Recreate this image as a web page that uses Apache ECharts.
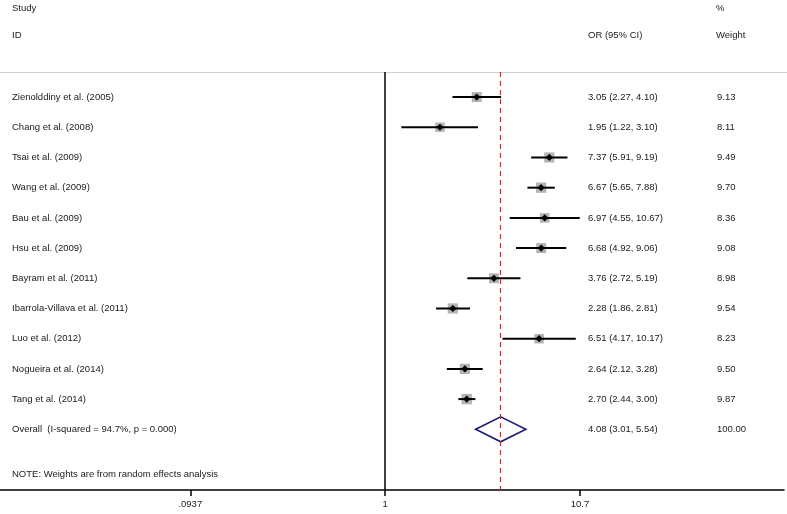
<!DOCTYPE html>
<html><head><meta charset="utf-8">
<script src="https://cdn.jsdelivr.net/npm/echarts@6/dist/echarts.min.js"></script>
<style>html,body{margin:0;padding:0;background:#fff}#c{width:787px;height:514px}</style>
</head><body><div id="c"></div>
<script>
const studies = ['Zienolddiny et al. (2005)','Chang et al. (2008)','Tsai et al. (2009)','Wang et al. (2009)','Bau et al. (2009)','Hsu et al. (2009)','Bayram et al. (2011)','Ibarrola-Villava et al. (2011)','Luo et al. (2012)','Nogueira et al. (2014)','Tang et al. (2014)'];
const orVals = [3.05,1.95,7.37,6.67,6.97,6.68,3.76,2.28,6.51,2.64,2.70];
const ciLow  = [2.27,1.22,5.91,5.65,4.55,4.92,2.72,1.86,4.17,2.12,2.44];
const ciHigh = [4.10,3.10,9.19,7.88,10.67,9.06,5.19,2.81,10.17,3.28,3.00];
const weights = [9.13,8.11,9.49,9.70,8.36,9.08,8.98,9.54,8.23,9.50,9.87];
const overallLabel = 'Overall  (I-squared = 94.7%, p = 0.000)';
const overallOR = 4.08, overallLow = 3.01, overallHigh = 5.54, overallWeight = 100.00;
const tickValues = [0.0937, 1, 10.7];
const tickLabels = ['.0937', '1', '10.7'];
const noteText = 'NOTE: Weights are from random effects analysis';

const FONT = '"Liberation Sans", Arial, sans-serif';
const FS = 9.5;
const TXT = '#1a1a1a';
const fmt = v => v.toFixed(2);

const markData = studies.map((s, i) => [orVals[i], i, ciLow[i], ciHigh[i], weights[i]]);
const textData = studies.map((s, i) => [1, i, s, fmt(orVals[i]) + ' (' + fmt(ciLow[i]) + ', ' + fmt(ciHigh[i]) + ')', fmt(weights[i])]);
textData.push([1, studies.length, overallLabel, fmt(overallOR) + ' (' + fmt(overallLow) + ', ' + fmt(overallHigh) + ')', fmt(overallWeight)]);

const font = FS + 'px ' + FONT;
const chart = echarts.init(document.getElementById('c'), null, {renderer: 'canvas'});
const option = {
  animation: false,
  grid: {left: 0, right: 3, top: 72, bottom: 24},
  xAxis: {
    type: 'log', logBase: 10, min: 0.00927, max: 127.8,
    axisLine: {onZero: false, lineStyle: {color: '#000', width: 1.5}},
    axisTick: {show: true, customValues: tickValues, length: 6, lineStyle: {color: '#000', width: 1.5}},
    axisLabel: {
      customValues: tickValues, fontFamily: FONT, fontSize: FS, color: TXT, margin: 9,
      formatter: v => { const k = tickValues.findIndex(t => Math.abs(t - v) / t < 1e-4); return k >= 0 ? tickLabels[k] : ''; }
    },
    splitLine: {show: false}
  },
  yAxis: {type: 'value', inverse: true, min: -0.83, max: 13.01, show: false},
  graphic: [
    {type: 'line', shape: {x1: 0, y1: 72.5, x2: 787, y2: 72.5}, style: {stroke: '#d0d0d0', lineWidth: 1}},
    {type: 'text', x: 12, y: 8, style: {text: 'Study', font: font, fill: TXT, verticalAlign: 'middle'}},
    {type: 'text', x: 12, y: 35, style: {text: 'ID', font: font, fill: TXT, verticalAlign: 'middle'}},
    {type: 'text', x: 588, y: 35, style: {text: 'OR (95% CI)', font: font, fill: TXT, verticalAlign: 'middle'}},
    {type: 'text', x: 716, y: 8, style: {text: '%', font: font, fill: TXT, verticalAlign: 'middle'}},
    {type: 'text', x: 716, y: 35, style: {text: 'Weight', font: font, fill: TXT, verticalAlign: 'middle'}},
    {type: 'text', x: 12, y: 474, style: {text: noteText, font: font, fill: TXT, verticalAlign: 'middle'}}
  ],
  series: [
    {
      type: 'custom', data: markData, encode: {x: 0, y: 1}, z: 3,
      renderItem: (params, api) => {
        const i = api.value(1);
        const c = api.coord([api.value(0), i]);
        const lo = api.coord([api.value(2), i]);
        const hi = api.coord([api.value(3), i]);
        const side = 3.3 * Math.sqrt(api.value(4));
        const d = 3.6;
        return {type: 'group', children: [
          {type: 'rect', shape: {x: c[0] - side / 2, y: c[1] - side / 2, width: side, height: side}, style: {fill: '#b4b4b4'}},
          {type: 'line', shape: {x1: lo[0], y1: lo[1], x2: hi[0], y2: hi[1]}, style: {stroke: '#000', lineWidth: 2}},
          {type: 'polygon', shape: {points: [[c[0], c[1] - d], [c[0] + d, c[1]], [c[0], c[1] + d], [c[0] - d, c[1]]]}, style: {fill: '#000'}}
        ]};
      }
    },
    {
      type: 'custom', data: [[overallOR, studies.length, overallLow, overallHigh]], encode: {x: 0, y: 1}, z: 4,
      renderItem: (params, api) => {
        const i = api.value(1);
        const c = api.coord([api.value(0), i]);
        const lo = api.coord([api.value(2), i]);
        const hi = api.coord([api.value(3), i]);
        const h = 12.5;
        return {type: 'polygon', shape: {points: [[lo[0], c[1]], [c[0], c[1] - h], [hi[0], c[1]], [c[0], c[1] + h]]},
          style: {fill: 'none', stroke: '#1a1a7a', lineWidth: 1.6}};
      },
      markLine: {
        silent: true, symbol: 'none', label: {show: false},
        data: [
          {xAxis: 1, lineStyle: {color: '#000', width: 1.5, type: 'solid'}},
          {xAxis: overallOR, lineStyle: {color: '#a83c3c', width: 1.2, type: [5, 4]}}
        ]
      }
    },
    {
      type: 'custom', data: textData, encode: {x: 0, y: 1}, z: 5,
      renderItem: (params, api) => {
        const y = api.coord([1, api.value(1)])[1];
        const r = textData[params.dataIndex];
        const st = (t) => ({text: t, font: font, fill: TXT, verticalAlign: 'middle'});
        return {type: 'group', children: [
          {type: 'text', x: 12, y: y, style: st(r[2])},
          {type: 'text', x: 588, y: y, style: st(r[3])},
          {type: 'text', x: 717, y: y, style: st(r[4])}
        ]};
      }
    }
  ]
};
chart.setOption(option);
</script></body></html>
